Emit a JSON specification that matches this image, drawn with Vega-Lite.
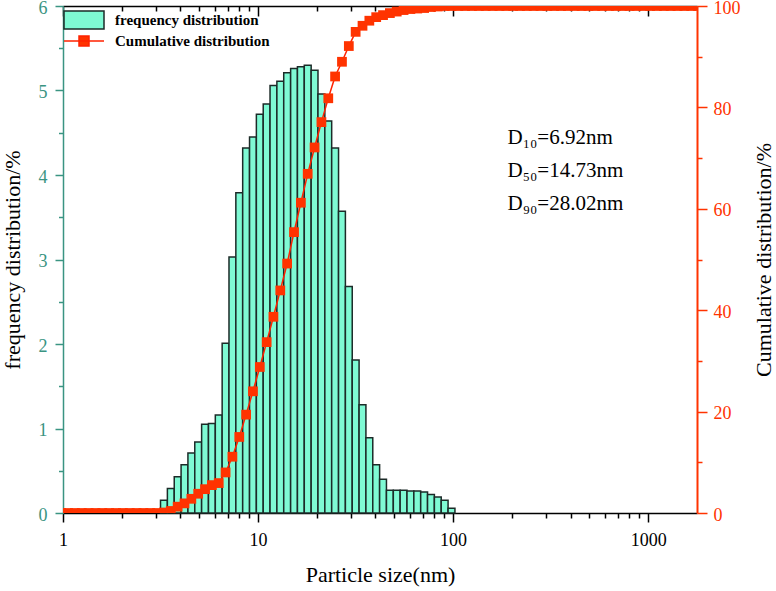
{
  "$schema": "https://vega.github.io/schema/vega-lite/v6.json",
  "width": 634,
  "height": 507,
  "autosize": {"type": "none"},
  "padding": {"left": 63, "top": 6, "right": 79, "bottom": 78},
  "background": "white",
  "config": {
    "view": {"stroke": null},
    "axis": {
      "labelFont": "Liberation Serif",
      "titleFont": "Liberation Serif",
      "labelFontSize": 18,
      "titleFontSize": 22,
      "titleFontWeight": "normal",
      "grid": false,
      "domainWidth": 1.5,
      "tickWidth": 1.5
    },
    "legend": {
      "labelFont": "Liberation Serif",
      "labelFontSize": 15,
      "labelFontWeight": "bold",
      "labelColor": "black",
      "padding": 0
    }
  },
  "datasets": {
    "bars": [
      {"lo": 3.162, "hi": 3.429, "freq": 0.15},
      {"lo": 3.429, "hi": 3.718, "freq": 0.29},
      {"lo": 3.718, "hi": 4.031, "freq": 0.43},
      {"lo": 4.031, "hi": 4.370, "freq": 0.57},
      {"lo": 4.370, "hi": 4.738, "freq": 0.71},
      {"lo": 4.738, "hi": 5.137, "freq": 0.84},
      {"lo": 5.137, "hi": 5.569, "freq": 1.05},
      {"lo": 5.569, "hi": 6.038, "freq": 1.06},
      {"lo": 6.038, "hi": 6.546, "freq": 1.16},
      {"lo": 6.546, "hi": 7.096, "freq": 2.01},
      {"lo": 7.096, "hi": 7.694, "freq": 3.03},
      {"lo": 7.694, "hi": 8.341, "freq": 3.79},
      {"lo": 8.341, "hi": 9.044, "freq": 4.32},
      {"lo": 9.044, "hi": 9.804, "freq": 4.45},
      {"lo": 9.804, "hi": 10.63, "freq": 4.72},
      {"lo": 10.63, "hi": 11.52, "freq": 4.84},
      {"lo": 11.52, "hi": 12.49, "freq": 5.06},
      {"lo": 12.49, "hi": 13.54, "freq": 5.11},
      {"lo": 13.54, "hi": 14.69, "freq": 5.21},
      {"lo": 14.69, "hi": 15.92, "freq": 5.26},
      {"lo": 15.92, "hi": 17.26, "freq": 5.28},
      {"lo": 17.26, "hi": 18.72, "freq": 5.30},
      {"lo": 18.72, "hi": 20.29, "freq": 5.24},
      {"lo": 20.29, "hi": 22.00, "freq": 4.96},
      {"lo": 22.00, "hi": 23.85, "freq": 4.64},
      {"lo": 23.85, "hi": 25.86, "freq": 4.32},
      {"lo": 25.86, "hi": 28.04, "freq": 3.57},
      {"lo": 28.04, "hi": 30.40, "freq": 2.68},
      {"lo": 30.40, "hi": 32.96, "freq": 1.81},
      {"lo": 32.96, "hi": 35.73, "freq": 1.28},
      {"lo": 35.73, "hi": 38.74, "freq": 0.89},
      {"lo": 38.74, "hi": 42.00, "freq": 0.57},
      {"lo": 42.00, "hi": 45.53, "freq": 0.40},
      {"lo": 45.53, "hi": 49.37, "freq": 0.27},
      {"lo": 49.37, "hi": 53.52, "freq": 0.27},
      {"lo": 53.52, "hi": 58.03, "freq": 0.27},
      {"lo": 58.03, "hi": 62.91, "freq": 0.26},
      {"lo": 62.91, "hi": 68.21, "freq": 0.26},
      {"lo": 68.21, "hi": 73.95, "freq": 0.25},
      {"lo": 73.95, "hi": 80.17, "freq": 0.22},
      {"lo": 80.17, "hi": 86.92, "freq": 0.19},
      {"lo": 86.92, "hi": 94.23, "freq": 0.15},
      {"lo": 94.23, "hi": 102.2, "freq": 0.055}
    ],
    "cum": [
      {"size": 0.979, "cum": 0},
      {"size": 1.062, "cum": 0},
      {"size": 1.151, "cum": 0},
      {"size": 1.248, "cum": 0},
      {"size": 1.353, "cum": 0},
      {"size": 1.467, "cum": 0},
      {"size": 1.591, "cum": 0},
      {"size": 1.725, "cum": 0},
      {"size": 1.870, "cum": 0},
      {"size": 2.027, "cum": 0},
      {"size": 2.198, "cum": 0},
      {"size": 2.383, "cum": 0},
      {"size": 2.584, "cum": 0},
      {"size": 2.801, "cum": 0},
      {"size": 3.037, "cum": 0},
      {"size": 3.293, "cum": 0.1},
      {"size": 3.570, "cum": 0.4},
      {"size": 3.871, "cum": 1.25},
      {"size": 4.197, "cum": 1.9},
      {"size": 4.550, "cum": 2.8},
      {"size": 4.933, "cum": 3.8},
      {"size": 5.349, "cum": 4.7},
      {"size": 5.798, "cum": 5.5},
      {"size": 6.287, "cum": 5.9},
      {"size": 6.816, "cum": 8.0},
      {"size": 7.388, "cum": 11.1},
      {"size": 8.011, "cum": 15.0},
      {"size": 8.685, "cum": 19.4},
      {"size": 9.417, "cum": 24.0},
      {"size": 10.21, "cum": 28.8},
      {"size": 11.07, "cum": 33.7},
      {"size": 11.99, "cum": 38.7},
      {"size": 13.00, "cum": 43.9},
      {"size": 14.10, "cum": 49.2},
      {"size": 15.29, "cum": 55.4},
      {"size": 16.58, "cum": 61.2},
      {"size": 17.97, "cum": 66.9},
      {"size": 19.49, "cum": 72.1},
      {"size": 21.13, "cum": 77.1},
      {"size": 22.91, "cum": 81.8},
      {"size": 24.83, "cum": 86.1},
      {"size": 26.93, "cum": 89.0},
      {"size": 29.20, "cum": 92.1},
      {"size": 31.65, "cum": 94.9},
      {"size": 34.32, "cum": 96.1},
      {"size": 37.20, "cum": 97.1},
      {"size": 40.34, "cum": 97.8},
      {"size": 43.73, "cum": 98.2},
      {"size": 47.41, "cum": 98.6},
      {"size": 51.40, "cum": 98.9},
      {"size": 55.73, "cum": 99.2},
      {"size": 60.42, "cum": 99.4},
      {"size": 65.50, "cum": 99.5},
      {"size": 71.02, "cum": 99.6},
      {"size": 77.00, "cum": 99.8},
      {"size": 83.47, "cum": 99.9},
      {"size": 90.50, "cum": 100},
      {"size": 98.11, "cum": 100},
      {"size": 106.4, "cum": 100},
      {"size": 115.3, "cum": 100},
      {"size": 125.0, "cum": 100},
      {"size": 135.6, "cum": 100},
      {"size": 147.0, "cum": 100},
      {"size": 159.4, "cum": 100},
      {"size": 172.8, "cum": 100},
      {"size": 187.3, "cum": 100},
      {"size": 203.1, "cum": 100},
      {"size": 220.2, "cum": 100},
      {"size": 238.7, "cum": 100},
      {"size": 258.8, "cum": 100},
      {"size": 280.6, "cum": 100},
      {"size": 304.3, "cum": 100},
      {"size": 329.9, "cum": 100},
      {"size": 357.6, "cum": 100},
      {"size": 387.8, "cum": 100},
      {"size": 420.4, "cum": 100},
      {"size": 455.8, "cum": 100},
      {"size": 494.2, "cum": 100},
      {"size": 535.8, "cum": 100},
      {"size": 580.9, "cum": 100},
      {"size": 629.8, "cum": 100},
      {"size": 682.9, "cum": 100},
      {"size": 740.4, "cum": 100},
      {"size": 802.7, "cum": 100},
      {"size": 870.3, "cum": 100},
      {"size": 943.6, "cum": 100},
      {"size": 1023, "cum": 100},
      {"size": 1109, "cum": 100},
      {"size": 1203, "cum": 100},
      {"size": 1304, "cum": 100},
      {"size": 1414, "cum": 100},
      {"size": 1533, "cum": 100},
      {"size": 1662, "cum": 100},
      {"size": 1802, "cum": 100}
    ]
  },
  "layer": [
    {
      "layer": [
        {
          "data": {"name": "bars"},
          "mark": {"type": "bar", "stroke": "#1c2b28", "strokeWidth": 1.5},
          "encoding": {
            "x": {
              "field": "lo",
              "type": "quantitative",
              "scale": {"type": "log", "domain": [1, 1780], "nice": false},
              "axis": {
                "orient": "bottom",
                "title": "Particle size(nm)",
                "values": [1, 2, 3, 4, 5, 6, 7, 8, 9, 10, 20, 30, 40, 50, 60, 70, 80, 90, 100, 200, 300, 400, 500, 600, 700, 800, 900, 1000],
                "labelExpr": "indexof([1, 10, 100, 1000], datum.value) >= 0 ? format(datum.value, 'd') : ''",
                "labelOverlap": false,
                "labelFlush": false,
                "tickSize": {"condition": {"test": "indexof([1, 10, 100, 1000], datum.value) >= 0", "value": 9}, "value": 5},
                "domainColor": "black",
                "tickColor": "black",
                "labelColor": "black",
                "titleColor": "black",
                "labelPadding": 9,
                "titlePadding": 15
              }
            },
            "x2": {"field": "hi"},
            "y": {
              "field": "freq",
              "type": "quantitative",
              "scale": {"domain": [0, 6], "nice": false},
              "axis": {
                "orient": "left",
                "title": "frequency distribution/%",
                "values": [0, 0.5, 1, 1.5, 2, 2.5, 3, 3.5, 4, 4.5, 5, 5.5, 6],
                "labelExpr": "datum.value % 1 == 0 ? format(datum.value, 'd') : ''",
                "labelOffset": 2,
                "tickSize": {"condition": {"test": "datum.value % 1 == 0", "value": 8}, "value": 4.5},
                "domainColor": "#3a9482",
                "tickColor": "#3a9482",
                "labelColor": "#3a9482",
                "titleColor": "black",
                "labelPadding": 8,
                "titlePadding": 14
              }
            },
            "y2": {"datum": 0},
            "fill": {
              "datum": "frequency distribution",
              "type": "nominal",
              "scale": {"range": ["#7ffad4"]},
              "legend": {
                "orient": "none",
                "legendX": 0,
                "legendY": -7,
                "title": null,
                "symbolType": "M-1,-0.45H1V0.45H-1Z",
                "symbolSize": 1600,
                "symbolStrokeColor": "#1c2b28",
                "symbolStrokeWidth": 1.5,
                "labelOffset": 10
              }
            }
          }
        },
        {
          "data": {"values": [{"note": "diameters"}]},
          "mark": {"type": "text", "align": "left", "baseline": "middle", "font": "Liberation Serif", "fontSize": 21, "lineHeight": 33, "color": "black"},
          "encoding": {
            "x": {"datum": 190, "type": "quantitative"},
            "y": {"datum": 4.44, "type": "quantitative"},
            "text": {"value": ["D₁₀=6.92nm", "D₅₀=14.73nm", "D₉₀=28.02nm"]}
          }
        }
      ]
    },
    {
      "data": {"name": "cum"},
      "layer": [
        {
          "mark": {"type": "line", "clip": true, "strokeWidth": 1.5},
          "encoding": {
            "x": {
              "field": "size",
              "type": "quantitative",
              "scale": {"type": "log", "domain": [1, 1780], "nice": false},
              "axis": {
                "orient": "top",
                "title": null,
                "labels": false,
                "values": [1, 2, 3, 4, 5, 6, 7, 8, 9, 10, 20, 30, 40, 50, 60, 70, 80, 90, 100, 200, 300, 400, 500, 600, 700, 800, 900, 1000],
                "tickSize": {"condition": {"test": "indexof([1, 10, 100, 1000], datum.value) >= 0", "value": -10}, "value": -5},
                "domainColor": "black",
                "tickColor": "black"
              }
            },
            "y": {
              "field": "cum",
              "type": "quantitative",
              "scale": {"domain": [0, 100], "nice": false},
              "axis": {
                "orient": "right",
                "title": "Cumulative distribution/%",
                "titleAngle": 270,
                "titleBaseline": "top",
                "values": [0, 10, 20, 30, 40, 50, 60, 70, 80, 90, 100],
                "labelExpr": "datum.value % 20 == 0 ? format(datum.value, 'd') : ''",
                "labelOffset": 2,
                "tickSize": {"condition": {"test": "datum.value % 20 == 0", "value": 10}, "value": 5},
                "domainColor": "#ff3300",
                "domainWidth": 2,
                "tickColor": "#ff3300",
                "labelColor": "#ff3300",
                "titleColor": "black",
                "labelPadding": 6,
                "titlePadding": 13
              }
            },
            "stroke": {
              "datum": "Cumulative distribution",
              "type": "nominal",
              "scale": {"range": ["#ff2200"]},
              "legend": {
                "orient": "none",
                "legendX": 0,
                "legendY": 14,
                "title": null,
                "symbolType": "M-1,0H1M-0.25,-0.25H0.25V0.25H-0.25Z",
                "symbolSize": 1600,
                "symbolStrokeWidth": 1.5,
                "symbolFillColor": "#ff3300",
                "labelOffset": 10
              }
            }
          }
        },
        {
          "mark": {"type": "square", "clip": true, "size": 95, "color": "#ff3300", "opacity": 1},
          "encoding": {
            "x": {"field": "size", "type": "quantitative"},
            "y": {"field": "cum", "type": "quantitative"}
          }
        }
      ]
    }
  ],
  "resolve": {"scale": {"y": "independent"}, "axis": {"x": "independent"}}
}
